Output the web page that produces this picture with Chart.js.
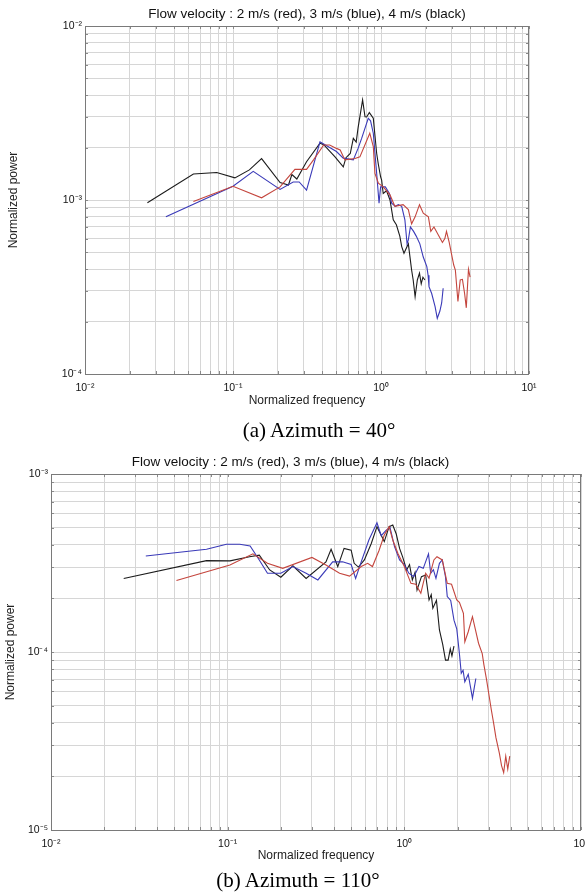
<!DOCTYPE html>
<html>
<head>
<meta charset="utf-8">
<script src="https://cdn.jsdelivr.net/npm/chart.js@4.4.1/dist/chart.umd.min.js"></script>
<style>
  body { margin: 0; background: #fff; width: 585px; height: 894px; position: relative; overflow: hidden; }
  .panel { position: absolute; left: 0; width: 585px; }
  .caption { position: absolute; font-family: 'Liberation Serif', 'Times New Roman', serif; font-size: 21px; color: #000; transform: translateX(-50%); white-space: nowrap; line-height: 24px; }
</style>
</head>
<body>
<div class="panel" style="top:0;height:420px"><canvas id="az40" width="585" height="420" style="width:585px;height:420px"></canvas></div>
<div class="caption" style="left:319px;top:418px">(a) Azimuth = 40°</div>
<div class="panel" style="top:440px;height:454px"><canvas id="az110" width="585" height="454" style="width:585px;height:454px"></canvas></div>
<div class="caption" style="left:298px;top:868px">(b) Azimuth = 110°</div>
<script>
Chart.defaults.font.family = "'Liberation Sans', Arial, Helvetica, sans-serif";
Chart.defaults.color = '#111';

const titleText = 'Flow velocity : 2 m/s (red), 3 m/s (blue), 4 m/s (black)';
const xLabel = 'Normalized frequency';
const yLabel = 'Normalized power';

// azimuth 40 deg
const az40RedF = [0.054, 0.1, 0.156, 0.208, 0.262, 0.314, 0.35, 0.41, 0.45, 0.5, 0.53, 0.57, 0.667, 0.72, 0.84, 0.887, 0.91, 0.96, 1.035, 1.15, 1.24, 1.41, 1.53, 1.61, 1.7, 1.82, 1.93, 2.09, 2.17, 2.28, 2.44, 2.6, 2.7, 2.77, 2.89, 3.1, 3.18, 3.31, 3.43, 3.55, 3.67, 3.77, 3.9, 4.0];
const az40RedP = [9.8e-4, 1.2e-3, 1.03e-3, 1.19e-3, 1.5e-3, 1.5e-3, 1.7e-3, 2.07e-3, 2.07e-3, 1.98e-3, 1.94e-3, 1.7e-3, 1.73e-3, 1.77e-3, 2.42e-3, 2.03e-3, 1.42e-3, 1.25e-3, 1.19e-3, 1.07e-3, 9.2e-4, 9.4e-4, 8.8e-4, 7.3e-4, 8.0e-4, 9.4e-4, 8.4e-4, 8.0e-4, 6.6e-4, 7.0e-4, 6.3e-4, 5.7e-4, 6.0e-4, 6.6e-4, 5.7e-4, 4.23e-4, 3.96e-4, 2.61e-4, 3.47e-4, 3.5e-4, 2.91e-4, 2.4e-4, 4.0e-4, 3.6e-4];

const az40BlueF = [0.0352, 0.1, 0.137, 0.208, 0.255, 0.28, 0.314, 0.387, 0.41, 0.5, 0.556, 0.65, 0.7, 0.74, 0.82, 0.85, 0.887, 0.935, 0.97, 0.994, 1.07, 1.14, 1.18, 1.25, 1.31, 1.38, 1.45, 1.5, 1.53, 1.58, 1.66, 1.73, 1.83, 1.93, 2.04, 2.08, 2.11, 2.2, 2.32, 2.4, 2.5, 2.57, 2.63];
const az40BlueP = [8.0e-4, 1.2e-3, 1.46e-3, 1.15e-3, 1.27e-3, 1.27e-3, 1.14e-3, 2.16e-3, 2.1e-3, 1.9e-3, 1.74e-3, 1.7e-3, 1.98e-3, 2.26e-3, 2.95e-3, 2.85e-3, 2.42e-3, 1.42e-3, 9.6e-4, 1.19e-3, 1.19e-3, 1.09e-3, 9.6e-4, 9.2e-4, 9.4e-4, 9.2e-4, 7.7e-4, 5.6e-4, 5.9e-4, 7.0e-4, 6.6e-4, 6.2e-4, 5.6e-4, 4.7e-4, 4.14e-4, 3.7e-4, 3.18e-4, 2.9e-4, 2.44e-4, 2.09e-4, 2.3e-4, 2.56e-4, 3.11e-4];

const az40BlackF = [0.0264, 0.054, 0.0776, 0.103, 0.129, 0.156, 0.208, 0.237, 0.25, 0.27, 0.314, 0.387, 0.41, 0.489, 0.556, 0.58, 0.62, 0.65, 0.68, 0.7, 0.751, 0.78, 0.8, 0.834, 0.887, 0.935, 0.96, 0.994, 1.01, 1.035, 1.09, 1.15, 1.21, 1.27, 1.34, 1.38, 1.43, 1.53, 1.61, 1.65, 1.7, 1.76, 1.82, 1.87, 1.92, 1.98];
const az40BlackP = [9.65e-4, 1.41e-3, 1.44e-3, 1.34e-3, 1.49e-3, 1.73e-3, 1.26e-3, 1.22e-3, 1.4e-3, 1.32e-3, 1.66e-3, 2.12e-3, 2.08e-3, 1.77e-3, 1.55e-3, 1.75e-3, 1.85e-3, 2.26e-3, 2.15e-3, 2.6e-3, 3.76e-3, 3.01e-3, 3.0e-3, 3.18e-3, 2.95e-3, 1.85e-3, 1.6e-3, 1.36e-3, 1.3e-3, 1.09e-3, 1.13e-3, 1.0e-3, 7.7e-4, 7.2e-4, 6.2e-4, 5.4e-4, 4.94e-4, 5.6e-4, 3.96e-4, 3.47e-4, 2.78e-4, 3.47e-4, 3.8e-4, 3.3e-4, 3.6e-4, 3.47e-4];

// azimuth 110 deg
const az110RedF = [0.0513, 0.103, 0.139, 0.168, 0.205, 0.3, 0.36, 0.43, 0.49, 0.57, 0.62, 0.66, 0.72, 0.77, 0.82, 0.86, 0.92, 1.0, 1.09, 1.16, 1.24, 1.32, 1.38, 1.47, 1.53, 1.64, 1.75, 1.85, 1.98, 2.05, 2.16, 2.2, 2.3, 2.43, 2.52, 2.63, 2.76, 2.82, 2.92, 3.0, 3.1, 3.2, 3.3, 3.45, 3.55, 3.65, 3.75, 3.85, 3.95];
const az110RedP = [2.52e-4, 3.08e-4, 3.56e-4, 3.15e-4, 2.95e-4, 3.4e-4, 3.08e-4, 2.77e-4, 2.67e-4, 3.02e-4, 3.15e-4, 3.02e-4, 3.73e-4, 4.54e-4, 5.06e-4, 4.26e-4, 3.58e-4, 3.02e-4, 2.43e-4, 2.4e-4, 2.14e-4, 2.77e-4, 2.6e-4, 3.29e-4, 3.43e-4, 3.29e-4, 2.43e-4, 2.4e-4, 1.96e-4, 1.9e-4, 1.65e-4, 1.14e-4, 1.3e-4, 1.58e-4, 1.35e-4, 1.12e-4, 9.8e-5, 8.5e-5, 7.0e-5, 5.9e-5, 4.8e-5, 4.0e-5, 3.3e-5, 2.7e-5, 2.3e-5, 2.1e-5, 2.6e-5, 2.2e-5, 2.6e-5];

const az110BlueF = [0.0344, 0.0759, 0.0984, 0.117, 0.134, 0.151, 0.168, 0.2, 0.234, 0.278, 0.324, 0.393, 0.447, 0.5, 0.53, 0.57, 0.63, 0.7, 0.74, 0.79, 0.83, 0.88, 0.94, 1.0, 1.06, 1.13, 1.21, 1.28, 1.37, 1.41, 1.46, 1.51, 1.58, 1.64, 1.71, 1.75, 1.83, 1.91, 1.98, 2.05, 2.1, 2.15, 2.2, 2.3, 2.43, 2.54];
const az110BlueP = [3.46e-4, 3.78e-4, 4.03e-4, 4.03e-4, 3.94e-4, 3.29e-4, 2.77e-4, 2.77e-4, 3.02e-4, 2.77e-4, 2.54e-4, 3.21e-4, 3.21e-4, 3.1e-4, 2.59e-4, 3.21e-4, 4.26e-4, 5.32e-4, 4.5e-4, 4.84e-4, 5.0e-4, 3.91e-4, 3.29e-4, 3.1e-4, 2.77e-4, 2.65e-4, 3.02e-4, 2.95e-4, 3.56e-4, 2.77e-4, 2.9e-4, 2.59e-4, 3.15e-4, 3.29e-4, 2.64e-4, 2.05e-4, 1.95e-4, 1.51e-4, 1.35e-4, 9.8e-5, 7.6e-5, 7.9e-5, 6.8e-5, 7.5e-5, 5.5e-5, 7.1e-5];

const az110BlackF = [0.0258, 0.0759, 0.103, 0.133, 0.151, 0.173, 0.2, 0.234, 0.278, 0.36, 0.385, 0.42, 0.456, 0.5, 0.52, 0.55, 0.594, 0.65, 0.7, 0.77, 0.82, 0.86, 0.9, 0.94, 0.98, 1.03, 1.07, 1.11, 1.15, 1.18, 1.25, 1.32, 1.38, 1.42, 1.45, 1.52, 1.58, 1.65, 1.71, 1.77, 1.82, 1.86, 1.91];
const az110BlackP = [2.59e-4, 3.26e-4, 3.25e-4, 3.43e-4, 3.5e-4, 2.89e-4, 2.63e-4, 3.05e-4, 2.59e-4, 3.21e-4, 3.78e-4, 3.02e-4, 3.82e-4, 3.73e-4, 3.15e-4, 3.0e-4, 3.29e-4, 4.07e-4, 5.06e-4, 4.17e-4, 5.06e-4, 5.17e-4, 4.6e-4, 3.82e-4, 3.4e-4, 2.89e-4, 3.1e-4, 2.54e-4, 2.8e-4, 2.23e-4, 2.65e-4, 2.71e-4, 1.96e-4, 2.1e-4, 1.76e-4, 1.95e-4, 1.33e-4, 1.1e-4, 9.0e-5, 9.0e-5, 1.04e-4, 9.5e-5, 1.08e-4];

// axis decades (exponents of ten)
const xDecades = [-2, 1];
const az40Decades = [-4, -2];
const az110Decades = [-5, -3];

const lineColors = { red: '#c4463e', blue: '#3a3ab8', black: '#1c1c1c' };

const superDigits = { '-': '\u207B', '0': '\u2070', '1': '\u00B9', '2': '\u00B2', '3': '\u00B3', '4': '\u2074', '5': '\u2075' };

function decadeLabel(v) {
  let e = Math.round(Math.log10(v));
  if (Math.abs(Math.log10(v) - e) > 1e-6) return '';
  return '10' + String(e).split('').map((c) => superDigits[c]).join('');
}

// 1..9 x 10^n grid positions
function logTicks(range) {
  let ticks = [];
  for (let d = range[0]; d < range[1]; d++) {
    for (let m = 1; m < 10; m++) ticks.push(m * Math.pow(10, d));
  }
  ticks.push(Math.pow(10, range[1]));
  return ticks;
}

function toPoints(f, p) {
  return f.map((x, i) => ({ x: x, y: p[i] }));
}

// box round the plot plus short inward ticks, like matlab
const frame = {
  id: 'frame',
  afterDraw(chart) {
    const { ctx, chartArea: a, scales } = chart;
    ctx.save();
    ctx.strokeStyle = '#8a8a8a';
    ctx.lineWidth = 1;
    ctx.beginPath();
    scales.x.ticks.forEach((t) => {
      let px = Math.round(scales.x.getPixelForValue(t.value)) + 0.5;
      ctx.moveTo(px, a.bottom); ctx.lineTo(px, a.bottom - 3);
      ctx.moveTo(px, a.top); ctx.lineTo(px, a.top + 3);
    });
    scales.y.ticks.forEach((t) => {
      let py = Math.round(scales.y.getPixelForValue(t.value)) + 0.5;
      ctx.moveTo(a.left, py); ctx.lineTo(a.left + 3, py);
      ctx.moveTo(a.right, py); ctx.lineTo(a.right - 3, py);
    });
    ctx.stroke();
    ctx.strokeStyle = '#7a7a7a';
    ctx.strokeRect(Math.round(a.left) + 0.5, Math.round(a.top) + 0.5, Math.round(a.width) - 1, Math.round(a.height));
    ctx.restore();
  }
};

// no extra room for the end tick labels, the plot box is fixed
function noLabelPadding(s) {
  s.paddingLeft = 0;
  s.paddingRight = 0;
  s.paddingTop = 0;
  s.paddingBottom = 0;
}

function spectrum(id, series, yDecades, box) {
  let xTicks = logTicks(xDecades);
  let yTicks = logTicks(yDecades);
  let datasets = series.map((s) => ({
    data: toPoints(s[0], s[1]),
    borderColor: s[2],
    borderWidth: 1.1,
    showLine: true,
    pointRadius: 0,
    tension: 0,
  }));

  new Chart(document.getElementById(id), {
    type: 'scatter',
    data: { datasets: datasets },
    options: {
      responsive: false,
      animation: false,
      layout: { padding: { left: 0, right: box.padRight, top: 0, bottom: 0 } },
      plugins: {
        legend: { display: false },
        tooltip: { enabled: false },
        title: {
          display: true,
          text: titleText,
          fullSize: box.titleFull,
          color: '#111',
          font: { size: 13.5, weight: 'normal' },
          padding: { top: box.titleTop, bottom: box.titleBottom },
        },
      },
      scales: {
        x: {
          type: 'logarithmic',
          min: Math.pow(10, xDecades[0]),
          max: Math.pow(10, xDecades[1]),
          afterBuildTicks: (s) => { s.ticks = xTicks.map((v) => ({ value: v })); },
          afterFit: (s) => { s.height = box.xHeight; noLabelPadding(s); },
          border: { display: false },
          grid: { color: '#d6d6d6', drawTicks: false },
          ticks: { autoSkip: false, maxRotation: 0, padding: 8, color: '#111', font: { size: 10.5 }, callback: decadeLabel },
          title: { display: true, text: xLabel, color: '#222', font: { size: 12 }, padding: { top: 0, bottom: box.xTitlePad } },
        },
        y: {
          type: 'logarithmic',
          min: Math.pow(10, yDecades[0]),
          max: Math.pow(10, yDecades[1]),
          afterBuildTicks: (s) => { s.ticks = yTicks.map((v) => ({ value: v })); },
          afterFit: (s) => { s.width = box.yWidth; noLabelPadding(s); },
          border: { display: false },
          grid: { color: '#d6d6d6', drawTicks: false },
          ticks: { autoSkip: false, padding: 3, color: '#111', font: { size: 10.5 }, callback: decadeLabel },
          title: { display: true, text: yLabel, color: '#222', font: { size: 12 }, padding: { top: box.yTitlePad, bottom: 0 } },
        },
      },
    },
    plugins: [frame],
  });
}

spectrum('az40', [
  [az40RedF, az40RedP, lineColors.red],
  [az40BlueF, az40BlueP, lineColors.blue],
  [az40BlackF, az40BlackP, lineColors.black],
], az40Decades, { padRight: 56, titleFull: false, titleTop: 5.9, titleBottom: 3.9, xHeight: 46, xTitlePad: 11.8, yWidth: 85, yTitlePad: 6.8 });

spectrum('az110', [
  [az110RedF, az110RedP, lineColors.red],
  [az110BlueF, az110BlueP, lineColors.blue],
  [az110BlackF, az110BlackP, lineColors.black],
], az110Decades, { padRight: 4, titleFull: true, titleTop: 13.9, titleBottom: 3.9, xHeight: 64, xTitlePad: 30.8, yWidth: 51, yTitlePad: 3.8 });
</script>
</body>
</html>
